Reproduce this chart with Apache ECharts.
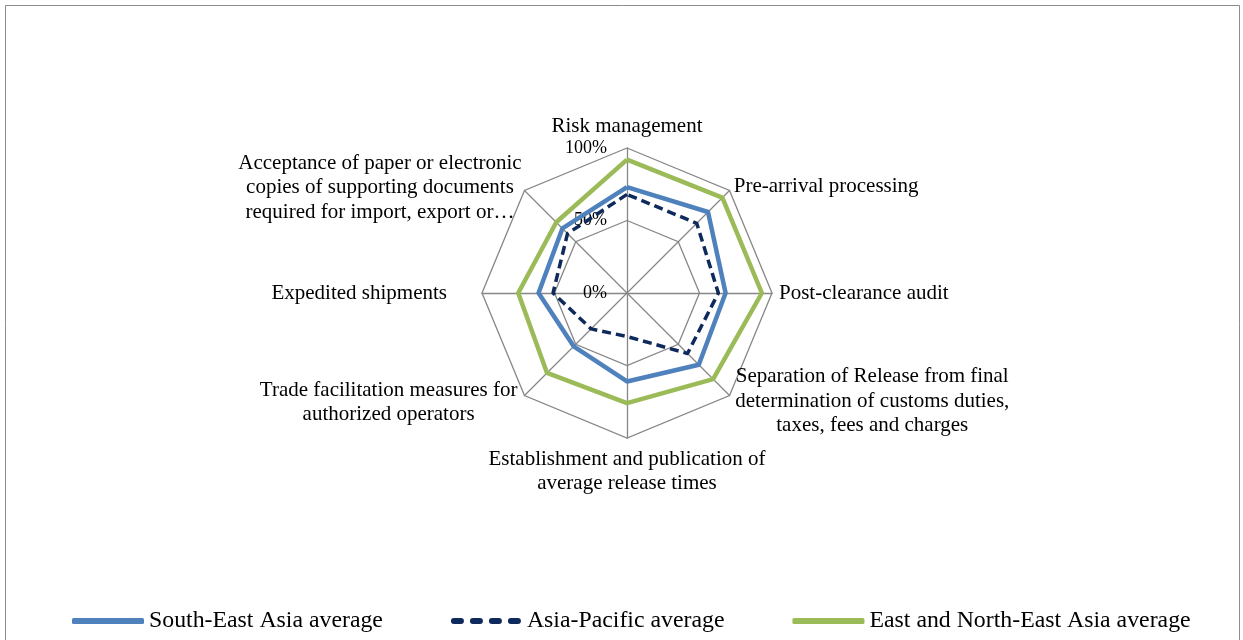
<!DOCTYPE html>
<html>
<head>
<meta charset="utf-8">
<style>
  html, body { margin: 0; padding: 0; background: #ffffff; }
  #chart { width: 1243px; height: 640px; }
</style>
<script src="https://cdn.jsdelivr.net/npm/echarts@6/dist/echarts.min.js"></script>
</head>
<body>
<div id="chart"></div>
<script>
// Trade facilitation measures, implementation rate (%), listed clockwise from the top
const indicators = [
  'Risk management',
  'Pre-arrival processing',
  'Post-clearance audit',
  'Separation of Release from final\ndetermination of customs duties,\ntaxes, fees and charges',
  'Establishment and publication of\naverage release times',
  'Trade facilitation measures for\nauthorized operators',
  'Expedited shipments',
  'Acceptance of paper or electronic\ncopies of supporting documents\nrequired for import, export or…'
];
const seriesNames = ['South-East Asia average', 'Asia-Pacific average', 'East and North-East Asia average'];
const southEastAsia = [73, 79, 68, 70, 61, 52, 61, 63];
const asiaPacific = [68, 68, 63, 59, 30, 35, 51, 58];
const eastNorthEastAsia = [92, 93, 93, 84, 76, 78, 75, 69];
const axisTicks = [0, 50, 100];

// distance between each name and its spoke end
const nameGaps = [1, 6, 7, 8, 9, 10, 35, 4];

const serif = '"Liberation Serif", "Times New Roman", serif';
const colors = ['#4F81BD', '#0E2A5C', '#9BBB59'];

// ECharts lays radar spokes out counter-clockwise; keep the first spoke and reverse the rest
const clockwise = arr => [arr[0]].concat(arr.slice(1).reverse());

const chart = echarts.init(document.getElementById('chart'), null, { renderer: 'canvas' });

const dashIcon = 'path://M3,0h7a3,3 0 0 1 0,6h-7a3,3 0 0 1 0,-6z M22,0h7a3,3 0 0 1 0,6h-7a3,3 0 0 1 0,-6z M41,0h7a3,3 0 0 1 0,6h-7a3,3 0 0 1 0,-6z M60,0h7a3,3 0 0 1 0,6h-7a3,3 0 0 1 0,-6z';

const indicatorList = clockwise(indicators.map((n, i) => ({
  name: n,
  min: axisTicks[0],
  max: axisTicks[axisTicks.length - 1],
  nameGap: nameGaps[i],
  axisLabel: i === 0
    ? { show: true, margin: 20, fontFamily: serif, fontSize: 18, color: '#000', formatter: v => v + '%' }
    : { show: false }
})));

chart.setOption({
  animation: false,
  backgroundColor: '#ffffff',
  textStyle: { fontFamily: serif },
  graphic: [{
    type: 'rect',
    shape: { x: 5.5, y: 5.5, width: 1234, height: 700 },
    style: { fill: 'none', stroke: '#8c8c8c', lineWidth: 1 },
    silent: true
  }],
  legend: {
    top: 604,
    left: 67,
    itemGap: 68,
    itemWidth: 72,
    itemHeight: 6,
    textStyle: { fontFamily: serif, fontSize: 23.8, color: '#000' },
    data: [
      { name: seriesNames[0], icon: 'roundRect', itemStyle: { color: colors[0] } },
      { name: seriesNames[1], icon: dashIcon, itemStyle: { color: colors[1] } },
      { name: seriesNames[2], icon: 'roundRect', itemStyle: { color: colors[2] } }
    ]
  },
  radar: {
    center: [627, 293],
    radius: 145,
    startAngle: 90,
    shape: 'polygon',
    splitNumber: axisTicks.length - 1,
    indicator: indicatorList,
    axisName: {
      color: '#000',
      fontFamily: serif,
      fontSize: 21,
      lineHeight: 24.5,
      formatter: name => name.split('\n').map(l => '{c|' + l + '}').join('\n'),
      rich: {
        c: { align: 'center', fontFamily: serif, fontSize: 21, lineHeight: 24.5, color: '#000' }
      }
    },
    splitArea: { show: false },
    splitLine: { lineStyle: { color: '#868686', width: 1.3 } },
    axisLine: { lineStyle: { color: '#868686', width: 1.3 } },
    axisTick: { show: false },
    axisLabel: { show: false }
  },
  series: [{
    type: 'radar',
    symbol: 'none',
    z: 3,
    data: [
      { name: seriesNames[0], value: clockwise(southEastAsia), lineStyle: { color: colors[0], width: 4.5 }, itemStyle: { color: colors[0] } },
      { name: seriesNames[1], value: clockwise(asiaPacific), lineStyle: { color: colors[1], width: 3.5, type: [9, 5] }, itemStyle: { color: colors[1] } },
      { name: seriesNames[2], value: clockwise(eastNorthEastAsia), lineStyle: { color: colors[2], width: 4.5 }, itemStyle: { color: colors[2] } }
    ]
  }]
});
</script>
</body>
</html>
